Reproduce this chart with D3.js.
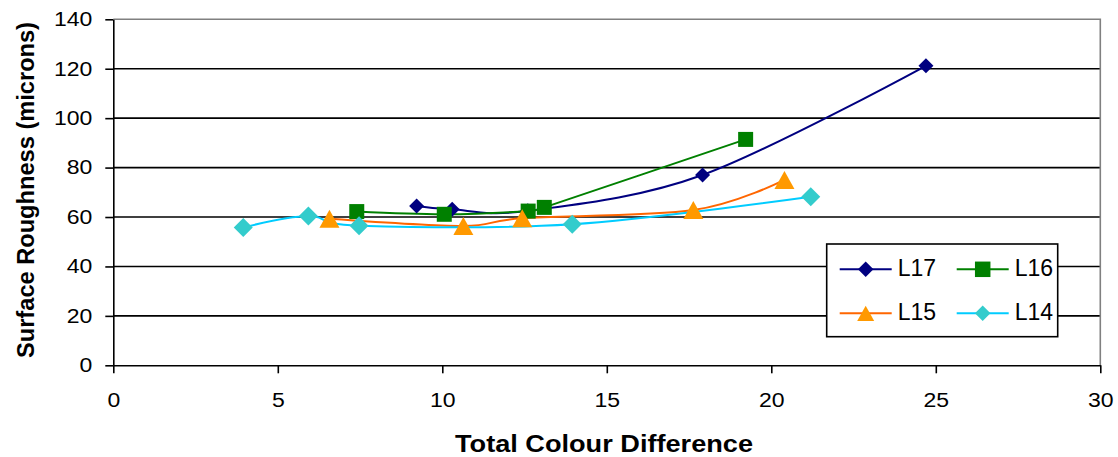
<!DOCTYPE html>
<html>
<head>
<meta charset="utf-8">
<script src="https://cdn.jsdelivr.net/npm/d3@7"></script>
<style>
  body { margin: 0; background: #fff; }
  text { font-family: "Liberation Sans", Arial, sans-serif; fill: #000; }
</style>
</head>
<body>
<div class="chart"></div>
<script>
// values
const seriesNames = ["L17", "L16", "L15", "L14"];
const l17X = [9.22, 10.3, 12.6, 17.91, 24.7];
const l17Y = [64.5, 63.1, 62.5, 77.0, 121.2];
const l16X = [7.4, 10.06, 12.61, 13.1, 19.22];
const l16Y = [62.2, 61.1, 62.4, 63.9, 91.4];
const l15X = [6.57, 10.64, 12.43, 17.63, 20.4];
const l15Y = [59.3, 56.4, 59.5, 62.8, 75.0];
const l14X = [3.95, 5.93, 7.47, 13.95, 21.2];
const l14Y = [55.8, 60.4, 56.5, 57.1, 68.2];
const xTicks = [0, 5, 10, 15, 20, 25, 30];
const yTicks = [0, 20, 40, 60, 80, 100, 120, 140];

const width = 1118;
const height = 457;

// marker shapes (excel style)
const diamond = { draw(ctx, size) { const h = Math.sqrt(size) / 2; ctx.moveTo(0, -h); ctx.lineTo(h, 0); ctx.lineTo(0, h); ctx.lineTo(-h, 0); ctx.closePath(); } };
const square = { draw(ctx, size) { const h = Math.sqrt(size) / 2; ctx.rect(-h, -h, 2 * h, 2 * h); } };
const triangle = { draw(ctx, size) { const w = Math.sqrt(size) / 2; const h = w * 0.9; ctx.moveTo(0, -h); ctx.lineTo(w, h); ctx.lineTo(-w, h); ctx.closePath(); } };

const series = [
  { name: seriesNames[0], xs: l17X, ys: l17Y, line: "#000080", fill: "#000080", shape: diamond, size: 15 },
  { name: seriesNames[1], xs: l16X, ys: l16Y, line: "#008000", fill: "#008000", shape: square, size: 15 },
  { name: seriesNames[2], xs: l15X, ys: l15Y, line: "#FF6600", fill: "#FF9900", shape: triangle, size: 20 },
  { name: seriesNames[3], xs: l14X, ys: l14Y, line: "#00CCFF", fill: "#33CCCC", shape: diamond, size: 19 }
].map(s => ({ ...s, values: s.xs.map((x, i) => ({ x: x, y: s.ys[i] })) }));

const svg = d3.select(".chart")
  .append("svg")
    .attr("width", width)
    .attr("height", height);

//SCALES
const xScale = d3.scaleLinear().domain([0, 30]).range([113.3, 1100.3]);
const yScale = d3.scaleLinear().domain([0, 140]).range([365.3, 19.3]);

//gridlines
svg.append("g")
  .selectAll("line")
  .data(yTicks.filter(d => d > 0 && d < 140))
  .enter().append("line")
    .attr("x1", xScale(0))
    .attr("x2", xScale(30))
    .attr("y1", d => yScale(d))
    .attr("y2", d => yScale(d))
    .style("stroke", "#000")
    .style("stroke-width", "1.6px");

//plot area border (top, right)
svg.append("path")
  .attr("d", `M${xScale(0)},${yScale(140)}H${xScale(30)}V${yScale(0)}`)
  .style("fill", "none")
  .style("stroke", "#808080")
  .style("stroke-width", "1.6px");

//yAxis
const yAxis = svg.append("g")
  .attr("transform", `translate(${xScale(0)},0)`)
  .call(d3.axisLeft(yScale).tickValues(yTicks).tickSize(8).tickSizeOuter(0).tickPadding(13));
//xAxis
const xAxis = svg.append("g")
  .attr("transform", `translate(0,${yScale(0)})`)
  .call(d3.axisBottom(xScale).tickValues(xTicks).tickSize(8).tickSizeOuter(0).tickPadding(20));

[xAxis, yAxis].forEach(a => {
  a.selectAll("line, path").style("stroke", "#000").style("stroke-width", "1.6px");
  a.selectAll(".tick text")
    .attr("font-family", null)
    .style("font-size", "20px")
    .attr("fill", "#000")
    .each(function() {
      const t = d3.select(this);
      t.attr("textLength", this.getComputedTextLength() * 1.15).attr("lengthAdjust", "spacingAndGlyphs");
    });
});

//axis titles
svg.append("text")
  .attr("x", 604)
  .attr("y", 452)
  .attr("text-anchor", "middle")
  .attr("textLength", 298)
  .attr("lengthAdjust", "spacingAndGlyphs")
  .style("font-size", "23px")
  .style("font-weight", "bold")
  .text("Total Colour Difference");

svg.append("text")
  .attr("transform", "translate(34,190) rotate(-90)")
  .attr("text-anchor", "middle")
  .attr("textLength", 336)
  .attr("lengthAdjust", "spacingAndGlyphs")
  .style("font-size", "23px")
  .style("font-weight", "bold")
  .text("Surface Roughness (microns)");

//CHART
const lineGenerator = d3.line()
  .curve(d3.curveCatmullRom.alpha(0)) // excel-like smoothing
  .x(d => xScale(d.x))
  .y(d => yScale(d.y));

svg.append("g")
  .selectAll("path")
  .data(series)
  .enter().append("path")
    .attr("d", d => lineGenerator(d.values))
    .style("fill", "none")
    .style("stroke", d => d.line)
    .style("stroke-width", "2px");

series.forEach(s => {
  svg.append("g")
    .selectAll("path")
    .data(s.values)
    .enter().append("path")
      .attr("transform", d => `translate(${xScale(d.x)},${yScale(d.y)})`)
      .attr("d", d3.symbol().type(s.shape).size(s.size * s.size))
      .style("fill", s.fill);
});

//legend
const legend = svg.append("g").attr("transform", "translate(826.7,244)");
legend.append("rect")
  .attr("width", 231)
  .attr("height", 92.7)
  .style("fill", "#fff")
  .style("stroke", "#000")
  .style("stroke-width", "1.6px");

const legendItem = legend.selectAll(".legend-item")
  .data(series)
  .enter().append("g")
    .attr("class", "legend-item")
    .attr("transform", (d, i) => `translate(${13 + (i % 2) * 117},${25.3 + Math.floor(i / 2) * 44})`);

legendItem.append("line")
  .attr("x1", 0)
  .attr("x2", 52)
  .style("stroke", d => d.line)
  .style("stroke-width", "2px");
legendItem.append("path")
  .attr("transform", "translate(26,0)")
  .attr("d", d => d3.symbol().type(d.shape).size(d.name === "L15" ? 17 * 17 : 15.5 * 15.5)())
  .style("fill", d => d.fill);
legendItem.append("text")
  .attr("x", 58)
  .attr("y", 7)
  .style("font-size", "23px")
  .text(d => d.name);
</script>
</body>
</html>
